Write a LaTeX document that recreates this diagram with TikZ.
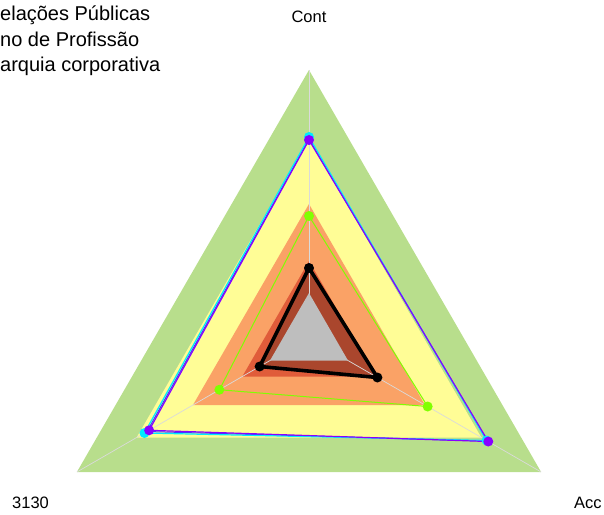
\documentclass[tikz,border=0pt]{standalone}
\usepackage{fontspec}
\setmainfont{Liberation Sans}
\usetikzlibrary{positioning}

\definecolor{bandgreen}{RGB}{184,222,140}
\definecolor{bandyellow}{RGB}{255,253,150}
\definecolor{bandorange}{RGB}{250,162,102}
\definecolor{bandred}{RGB}{224,92,58}
\definecolor{bandbrown}{RGB}{170,70,45}
\definecolor{bandgray}{RGB}{190,190,190}
\definecolor{axisgray}{RGB}{218,218,218}
\definecolor{serviolet}{RGB}{136,0,255}
\definecolor{serblue}{RGB}{60,60,255}
\definecolor{sercyan}{RGB}{0,235,255}
\definecolor{serlime}{RGB}{128,255,0}

\begin{document}
\begin{tikzpicture}[x=1pt, y=1pt,
    axis/.style={draw=axisgray, line width=0.7pt},
    series/.style={draw=#1, line width=1.2pt, line join=round},
    dotmark/.style={fill=#1},
    lbl/.style={font=\fontsize{16.5}{19}\selectfont, inner sep=0pt},
    title/.style={font=\fontsize{20}{24}\selectfont, inner sep=0pt}]

    \useasboundingbox (-309,-176) rectangle (295,338);

    \coordinate (c) at (0,0);
    \coordinate (top) at (90:268);
    \coordinate (left) at (210:268);
    \coordinate (right) at (330:268);

    % background bands
    \fill[bandgreen] (top) -- (left) -- (right) -- cycle;
    \fill[bandyellow] (90:199) -- (210:199) -- (330:199) -- cycle;
    \fill[bandorange] (90:134) -- (210:134) -- (330:134) -- cycle;
    \fill[bandred] (90:77) -- (210:77) -- (330:77) -- cycle;

    % series points
    \coordinate (k1) at (90:70);
    \coordinate (k2) at (210:57);
    \coordinate (k3) at (330:79);
    \coordinate (g1) at (90:122);
    \coordinate (g2) at (210:103.5);
    \coordinate (g3) at (330:137);
    \coordinate (b1) at (90:199);
    \coordinate (b2) at (210:187);
    \coordinate (b3) at (330:206);
    \coordinate (y1) at (90:201);
    \coordinate (y2) at (210:190);
    \coordinate (y3) at (330:205);
    \coordinate (v1) at (90:198);
    \coordinate (v2) at (210:184.6);
    \coordinate (v3) at (330:207);

    \fill[bandbrown] (k1) -- (k2) -- (k3) -- cycle;

    \draw[axis] (c) -- (top);
    \draw[axis] (c) -- (left);
    \draw[axis] (c) -- (right);

    \fill[bandgray] (90:45) -- (210:45) -- (330:45) -- cycle;

    \draw[series=serblue, line width=1pt] (b1) -- (b2) -- (b3) -- cycle;
    \draw[series=sercyan] (y1) -- (y2) -- (y3) -- cycle;
    \draw[series=serviolet] (v1) -- (v2) -- (v3) -- cycle;
    \draw[series=serlime, line width=1pt] (g1) -- (g2) -- (g3) -- cycle;
    \draw[series=black, line width=3.6pt] (k1) -- (k2) -- (k3) -- cycle;

    \fill[dotmark=sercyan] (y1) circle (5);
    \fill[dotmark=sercyan] (y2) circle (5);
    \fill[dotmark=sercyan] (y3) circle (5);
    \fill[dotmark=serviolet] (v1) circle (5);
    \fill[dotmark=serviolet] (v2) circle (5);
    \fill[dotmark=serviolet] (v3) circle (5);
    \fill[dotmark=serlime] (g1) circle (5);
    \fill[dotmark=serlime] (g2) circle (5);
    \fill[dotmark=serlime] (g3) circle (5);
    \fill[dotmark=black] (k1) circle (5);
    \fill[dotmark=black] (k2) circle (5);
    \fill[dotmark=black] (k3) circle (5);

    % axis labels
    \node[lbl, anchor=base] (cont) at (0,315) {Cont};
    \node[lbl, anchor=base west] (l3130) at (-297,-170) {3130};
    \node[lbl, anchor=base west] (acc) at (265,-170) {Acc};

    % title
    \node[title, anchor=base west] (t1) at (-309,317) {elações Públicas};
    \node[title, anchor=base west] (t2) at (-309,291.5) {no de Profissão};
    \node[title, anchor=base west] (t3) at (-309,266) {arquia corporativa};
\end{tikzpicture}
\end{document}
